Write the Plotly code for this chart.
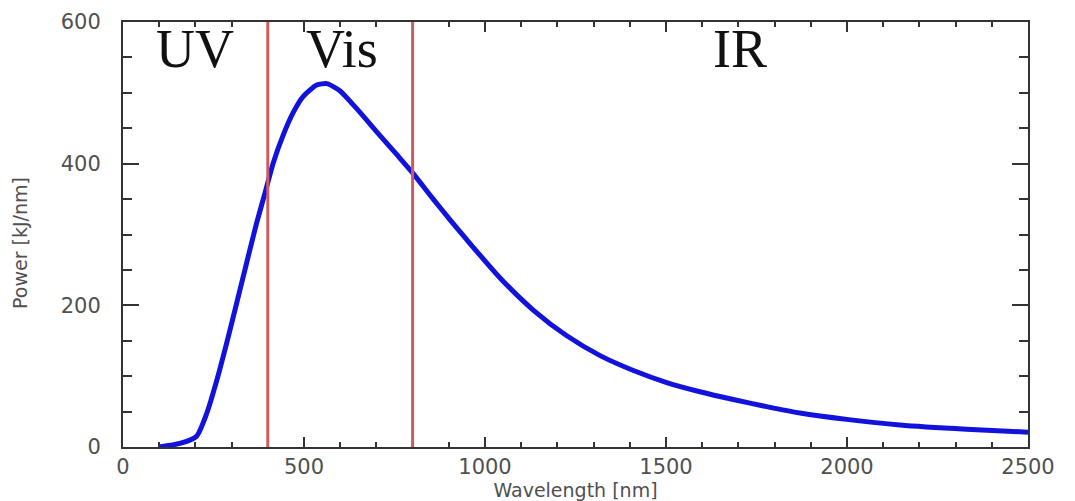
import plotly.graph_objects as go

# Spectrum
wavelength_nm = [100, 157, 203, 231, 259, 286, 314, 341, 369, 392, 415, 443, 470, 498,
                 535, 563, 599, 645, 701, 756, 800, 857, 903, 949, 1041, 1134, 1226,
                 1318, 1410, 1502, 1594, 1686, 1778, 1870, 1999, 2146, 2330, 2500]
power_kj_nm = [0, 5, 15, 47, 94, 146, 203, 259, 316, 358, 401, 441, 472, 495,
               511, 513, 503, 478, 445, 413, 387, 350, 321, 293, 239, 193, 157,
               129, 108, 91, 78, 67, 57, 48, 39, 31, 25, 21]

region_bounds = [400, 800]
region_labels = ["UV", "Vis", "IR"]
region_label_x = [200, 606, 1705]
region_label_y = [562, 562, 562]

fig = go.Figure()
fig.add_trace(go.Scatter(x=wavelength_nm, y=power_kj_nm, mode="lines",
                         line=dict(color="#1212dd", width=5, shape="spline", smoothing=0.6),
                         showlegend=False, hoverinfo="skip"))

for b in region_bounds:
    fig.add_vline(x=b, line=dict(color="#cd5c5c", width=3), layer="above")

for lab, lx, ly in zip(region_labels, region_label_x, region_label_y):
    fig.add_annotation(x=lx, y=ly, text=lab, showarrow=False,
                       font=dict(family="Liberation Serif", size=54, color="#111111"),
                       xanchor="center", yanchor="middle")

tickfont = dict(family="DejaVu Sans", size=21, color="#505050")
titlefont = dict(family="DejaVu Sans", size=19, color="#505050")
axis_common = dict(showgrid=False, zeroline=False, showline=True, linecolor="#333333",
                   linewidth=2, mirror="ticks", ticks="inside", tickcolor="#333333",
                   tickfont=tickfont, automargin=False)

fig.update_xaxes(range=[0, 2500], tickvals=[0, 500, 1000, 1500, 2000, 2500],
                 ticklen=10, tickwidth=2,
                 minor=dict(dtick=100, ticks="inside", ticklen=5, tickcolor="#333333", tickwidth=2),
                 title=dict(text="Wavelength [nm]", standoff=0, font=titlefont),
                 **axis_common)
fig.update_yaxes(range=[0, 600], tickvals=[0, 200, 400, 600],
                 ticklen=16, tickwidth=2, ticklabelstandoff=16,
                 minor=dict(dtick=50, ticks="inside", ticklen=9, tickcolor="#333333", tickwidth=2),
                 **axis_common)

fig.add_annotation(text="Power [kJ/nm]", xref="paper", yref="paper", x=0, y=0.48,
                   xshift=-103, textangle=-90, showarrow=False,
                   xanchor="center", yanchor="middle", font=titlefont)

fig.update_layout(width=1067, height=493, margin=dict(l=115, r=47, t=14, b=54),
                  plot_bgcolor="white", paper_bgcolor="white")

fig.write_html("out.html")
